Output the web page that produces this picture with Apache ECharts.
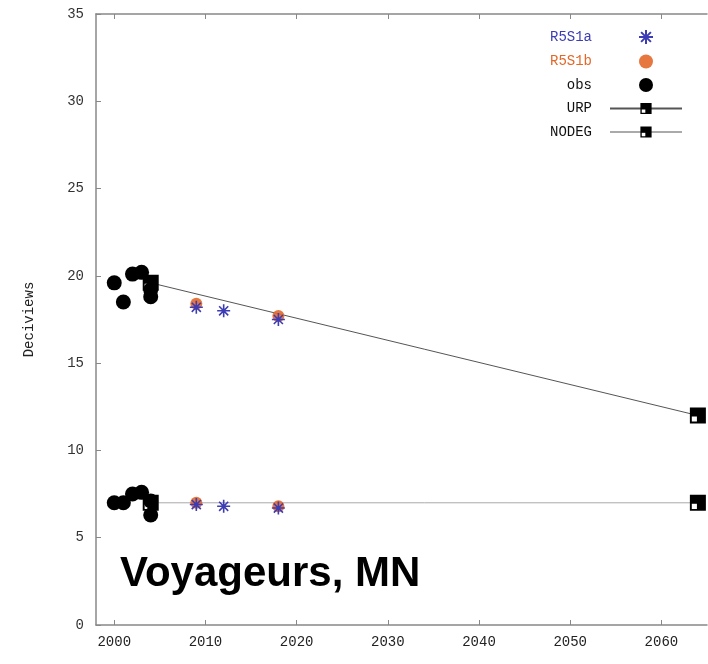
<!DOCTYPE html>
<html><head><meta charset="utf-8">
<script src="https://cdn.jsdelivr.net/npm/echarts@6/dist/echarts.min.js"></script>
<style>html,body{margin:0;padding:0;background:#fff}#c{width:708px;height:664px}</style>
</head><body><div id="c"></div>
<script>
// ---- data ----
const obsUpper = [[2000, 19.6], [2001, 18.5], [2002, 20.1], [2003, 20.2], [2004, 18.8], [2004, 19.2]];
const obsLower = [[2000, 7.0], [2001, 7.0], [2002, 7.5], [2003, 7.6], [2004, 6.3], [2004, 7.1]];
const r5s1a = [[2009, 18.2], [2012, 18.0], [2018, 17.5], [2009, 6.9], [2012, 6.8], [2018, 6.7]];
const r5s1b = [[2009, 18.4], [2018, 17.7], [2009, 7.0], [2018, 6.8]];
const urp = [[2004, 19.6], [2064, 12.0]];
const nodeg = [[2004, 7.0], [2064, 7.0]];
const xTicks = [2000, 2010, 2020, 2030, 2040, 2050, 2060];
const yTicks = [0, 5, 10, 15, 20, 25, 30, 35];
const title = 'Voyageurs, MN';
const yName = 'Deciviews';

const sq = 'path://M0,0H10V10H0Z M1.2,5.6V8.8H4.4V5.6Z';
const star = 'path://M5,0V10M0,5H10M1.5,1.5L8.5,8.5M8.5,1.5L1.5,8.5';
const mono = 'Liberation Mono';
const blue = '#3c3cb4';
const orange = '#e2682a';

const chart = echarts.init(document.getElementById('c'));
chart.setOption({
  animation: false,
  backgroundColor: '#fff',
  grid: {left: 96, right: 1, top: 14, bottom: 39},
  xAxis: [{
    type: 'value', min: 1998, max: 2065,
    axisLine: {lineStyle: {color: '#888', width: 1.5}},
    axisTick: {inside: true, length: 5, customValues: xTicks, lineStyle: {color: '#888'}},
    axisLabel: {customValues: xTicks, color: '#222', fontFamily: mono, fontSize: 14, margin: 10,
      formatter: v => String(v)},
    splitLine: {show: false}
  }, {
    type: 'value', min: 1998, max: 2065, position: 'top',
    axisLine: {show: true, onZero: false, lineStyle: {color: '#888', width: 1.5}},
    axisTick: {inside: true, length: 5, customValues: xTicks, lineStyle: {color: '#888'}},
    axisLabel: {show: false}, splitLine: {show: false}
  }],
  yAxis: {
    type: 'value', min: 0, max: 35, interval: 5,
    name: yName, nameLocation: 'middle', nameGap: 60,
    nameTextStyle: {fontFamily: mono, fontSize: 14, color: '#222'},
    axisLine: {show: true, lineStyle: {color: '#888', width: 1.5}},
    axisTick: {show: true, inside: true, length: 5, lineStyle: {color: '#888'}},
    axisLabel: {color: '#333', fontFamily: mono, fontSize: 14, margin: 12,
      customValues: yTicks},
    splitLine: {show: false}
  },
  legend: {
    orient: 'vertical', right: 20, top: 24, align: 'right',
    itemWidth: 72, itemHeight: 14, itemGap: 9.5,
    textStyle: {fontFamily: mono, fontSize: 14, color: '#111', padding: [0, 13, 0, 0]},
    data: [
      {name: 'R5S1a', textStyle: {color: blue}},
      {name: 'R5S1b', textStyle: {color: orange}},
      {name: 'obs'},
      {name: 'URP'},
      {name: 'NODEG'}
    ]
  },
  graphic: [{
    type: 'text', left: 120, top: 553,
    style: {text: title, font: 'bold 42px "Liberation Sans", Arial', fill: '#000'}
  }],
  series: [
    {name: 'obs', type: 'scatter', data: obsUpper.concat(obsLower), symbol: 'circle', symbolSize: 15,
      itemStyle: {color: '#000', opacity: 1}, z: 2},
    {name: 'URP', type: 'line', data: urp, symbol: sq, symbolSize: 16, showAllSymbol: true,
      lineStyle: {color: '#555', width: 1}, itemStyle: {color: '#000'}, z: 3},
    {name: 'NODEG', type: 'line', data: nodeg, symbol: sq, symbolSize: 16, showAllSymbol: true,
      lineStyle: {color: '#aaa', width: 1}, itemStyle: {color: '#000'}, z: 3},
    {name: 'R5S1b', type: 'scatter', data: r5s1b, symbol: 'circle', symbolSize: 12,
      itemStyle: {color: orange, opacity: 0.9}, z: 4},
    {name: 'R5S1a', type: 'scatter', data: r5s1a, symbol: star, symbolSize: 13,
      itemStyle: {color: 'rgba(0,0,0,0)', borderColor: blue, borderWidth: 1.6, opacity: 1}, z: 5}
  ]
});
</script></body></html>
